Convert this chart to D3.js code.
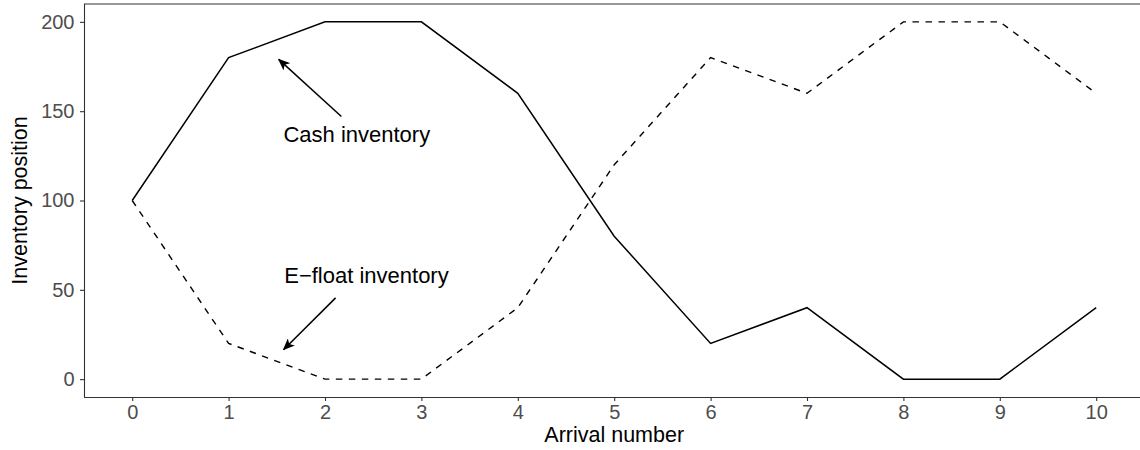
<!DOCTYPE html>
<html>
<head>
<meta charset="utf-8">
<script src="https://cdn.jsdelivr.net/npm/d3@7"></script>
<style>
  html, body { margin: 0; padding: 0; background: #fff; }
  svg { display: block; font-family: "Liberation Sans", Arial, Helvetica, sans-serif; }
</style>
</head>
<body>
<svg id="chart" width="1140" height="450"></svg>
<script>
// Inventory positions per arrival
const arrivals = [0, 1, 2, 3, 4, 5, 6, 7, 8, 9, 10];
const cashInventory = [100, 180, 200, 200, 160, 80, 20, 40, 0, 0, 40];
const efloatInventory = [100, 20, 0, 0, 40, 120, 180, 160, 200, 200, 160];
const yTicks = [0, 50, 100, 150, 200];

// Annotations: label position and arrow from tail to head (data units)
const annotationLabels = ["Cash inventory", "E\u2212float inventory"];
const annotationTextPos = [[2.33, 137], [2.43, 58.5]];
const annotationArrows = [
  [[2.17, 147], [1.52, 179]],
  [[2.11, 45.5], [1.57, 16.5]]
];

const svg = d3.select("#chart");
const W = 1140, H = 450;
const margin = { left: 84, top: 4, right: -4.4, bottom: 53 };

const x = d3.scaleLinear().domain([-0.5, 10.5]).range([margin.left, W - margin.right]);
const y = d3.scaleLinear().domain([-10, 210]).range([H - margin.bottom, margin.top]);

const axisColor = "#333333";
const tickText = "#4d4d4d";

// Panel outline (top edge) — left and bottom come from the axes
svg.append("line")
  .attr("x1", margin.left).attr("x2", W)
  .attr("y1", margin.top).attr("y2", margin.top)
  .attr("stroke", axisColor).attr("stroke-width", 1.1);

// Series lines
const line = d3.line().x((d, i) => x(arrivals[i])).y(d => y(d));

svg.append("path")
  .datum(efloatInventory)
  .attr("d", line)
  .attr("fill", "none")
  .attr("stroke", "#000")
  .attr("stroke-width", 1.4)
  .attr("stroke-dasharray", "6.5,6.5");

svg.append("path")
  .datum(cashInventory)
  .attr("d", line)
  .attr("fill", "none")
  .attr("stroke", "#000")
  .attr("stroke-width", 1.5);

// Axes
const xAxis = d3.axisBottom(x).tickValues(arrivals).tickSize(4).tickPadding(4).tickFormat(d3.format("d"));
const yAxis = d3.axisLeft(y).tickValues(yTicks).tickSize(4).tickPadding(5.5);

const gx = svg.append("g").attr("transform", `translate(0,${H - margin.bottom})`).call(xAxis);
const gy = svg.append("g").attr("transform", `translate(${margin.left},0)`).call(yAxis);

[gx, gy].forEach(g => {
  g.select(".domain").attr("stroke", axisColor).attr("stroke-width", 1.1);
  g.selectAll(".tick line").attr("stroke", axisColor).attr("stroke-width", 1.1);
  g.selectAll(".tick text").attr("fill", tickText).attr("font-size", 20).attr("font-family", null);
});
gx.select(".domain").attr("d", `M${margin.left},0.5H${W}`);
gy.select(".domain").attr("d", `M0.5,${margin.top}V${H - margin.bottom}`);

// Axis titles
svg.append("text")
  .attr("x", x(5)).attr("y", 442)
  .attr("text-anchor", "middle")
  .attr("font-size", 21.5)
  .attr("fill", "#000")
  .text("Arrival number");

svg.append("text")
  .attr("transform", `translate(27,${(margin.top + H - margin.bottom) / 2}) rotate(-90)`)
  .attr("text-anchor", "middle")
  .attr("font-size", 21.5)
  .attr("fill", "#000")
  .text("Inventory position");

// Arrowhead marker
svg.append("defs").append("marker")
  .attr("id", "arrowhead")
  .attr("viewBox", "0 0 12 10")
  .attr("refX", 11).attr("refY", 5)
  .attr("markerWidth", 12).attr("markerHeight", 10)
  .attr("markerUnits", "userSpaceOnUse")
  .attr("orient", "auto")
  .append("path")
  .attr("d", "M0,0 L12,5 L0,10 L3,5 Z")
  .attr("fill", "#000");

annotationArrows.forEach(([tail, head]) => {
  svg.append("line")
    .attr("x1", x(tail[0])).attr("y1", y(tail[1]))
    .attr("x2", x(head[0])).attr("y2", y(head[1]))
    .attr("stroke", "#000").attr("stroke-width", 1.5)
    .attr("marker-end", "url(#arrowhead)");
});

annotationLabels.forEach((label, i) => {
  svg.append("text")
    .attr("x", x(annotationTextPos[i][0]))
    .attr("y", y(annotationTextPos[i][1]))
    .attr("dy", "0.36em")
    .attr("text-anchor", "middle")
    .attr("font-size", 22)
    .attr("fill", "#000")
    .text(label);
});
</script>
</body>
</html>
